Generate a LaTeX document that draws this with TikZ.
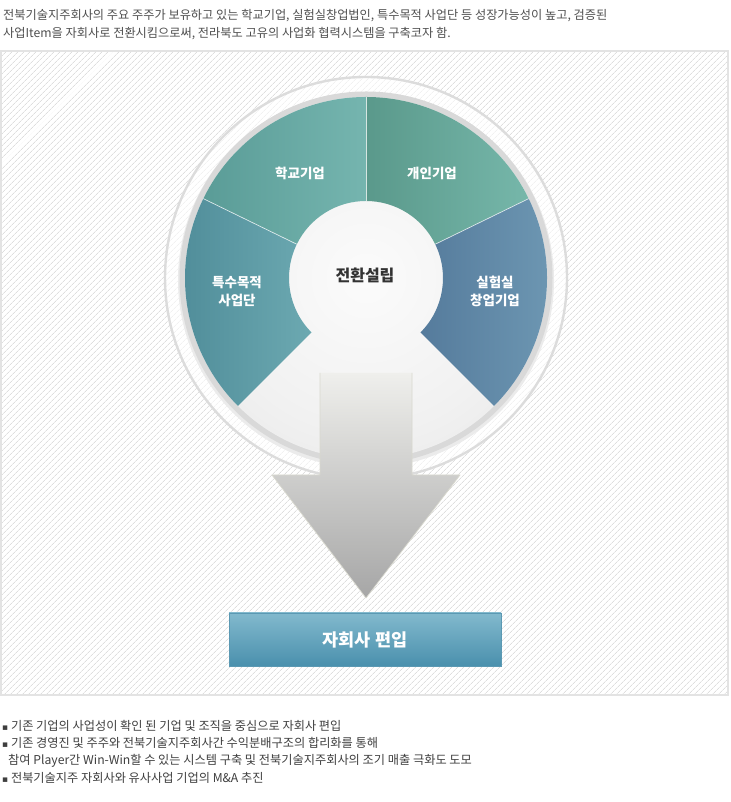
\documentclass[tikz,border=0pt]{standalone}
\usepackage{fontspec}
\setmainfont{Noto Sans CJK KR}
\newfontfamily\dv{DejaVu Sans}
\usetikzlibrary{patterns.meta}
\definecolor{panelborder}{HTML}{E3E3E3}
\definecolor{ringgray}{HTML}{DCDCDC}
\definecolor{rimgray}{HTML}{D9D9D9}
\definecolor{hakL}{HTML}{5A9C97}
\definecolor{hakR}{HTML}{75B5AF}
\definecolor{gaeL}{HTML}{5A998B}
\definecolor{gaeR}{HTML}{76B7AA}
\definecolor{teuL}{HTML}{4E8B98}
\definecolor{teuR}{HTML}{6CA9B1}
\definecolor{silL}{HTML}{557B9C}
\definecolor{silR}{HTML}{6F99B4}
\definecolor{arrowtop}{HTML}{EFEFEC}
\definecolor{arrowmid}{HTML}{D2D2D2}
\definecolor{arrowbot}{HTML}{A6A6A6}
\definecolor{arrowedge}{HTML}{D9D9CF}
\definecolor{boxtop}{HTML}{82B9CD}
\definecolor{boxbot}{HTML}{4A90AD}
\definecolor{boxedge}{HTML}{5B99B3}
\definecolor{toptxt}{HTML}{4F4F4F}
\definecolor{bottxt}{HTML}{3F3F3F}
\definecolor{centertxt}{HTML}{333333}
\pgfdeclareradialshading{discshade}{\pgfpoint{0bp}{0bp}}{rgb(0bp)=(0.985,0.985,0.985); rgb(21bp)=(0.945,0.945,0.945); rgb(50bp)=(0.86,0.86,0.86)}
\tikzset{
  seclabel/.style={text=white, font=\bfseries\fontsize{13.5}{18}\selectfont, align=center, inner sep=0pt},
  centerlabel/.style={text=centertxt, font=\bfseries\fontsize{16}{18}\selectfont, inner sep=0pt},
  boxstyle/.style={minimum width=272pt, minimum height=53pt, top color=boxtop, bottom color=boxbot, draw=boxedge, line width=0.8pt, text=white, font=\bfseries\fontsize{17.5}{18}\selectfont, inner sep=0pt},
  toptext/.style={text=toptxt, font=\fontsize{12.2}{14}\selectfont, anchor=base west, inner sep=0pt},
  bottext/.style={text=bottxt, font=\fontsize{12.2}{14}\selectfont, anchor=base west, inner sep=0pt},
  divider/.style={white, opacity=0.75, line width=0.7pt}
}
\begin{document}
\begin{tikzpicture}[x=1pt,y=1pt]
\useasboundingbox (0,0) rectangle (730,802);
\fill[white] (0,0) rectangle (730,802);
% panel
\fill[pattern={Lines[angle=45,distance=4pt,line width=0.8pt]}, pattern color=black!13] (1,107) rectangle (728,751);
\draw[panelborder, line width=1.8pt] (1,107) rectangle (728,751);
% outer ring
\coordinate (C) at (366,524);
\fill[white, opacity=0.6] (C) circle[radius=201];
\draw[ringgray, line width=2.4pt] (C) circle[radius=201];
% disc rim and body
\fill[black!8] ([yshift=-2pt]C) circle[radius=188];
\fill[rimgray] (C) circle[radius=186.5];
\shade[shading=discshade] (C) circle[radius=181];
% sectors
\begin{scope}[shift={(C)}]
\shade[left color=gaeL, right color=gaeR] (26:77) -- (26:181) arc[start angle=26, end angle=90, radius=181] -- (90:77) arc[start angle=90, end angle=26, radius=77] -- cycle;
\shade[left color=hakL, right color=hakR] (90:77) -- (90:181) arc[start angle=90, end angle=154, radius=181] -- (154:77) arc[start angle=154, end angle=90, radius=77] -- cycle;
\shade[left color=teuL, right color=teuR] (154:77) -- (154:181) arc[start angle=154, end angle=225, radius=181] -- (225:77) arc[start angle=225, end angle=154, radius=77] -- cycle;
\shade[left color=silL, right color=silR] (-45:77) -- (-45:181) arc[start angle=-45, end angle=26, radius=181] -- (26:77) arc[start angle=26, end angle=-45, radius=77] -- cycle;
\draw[divider] (90:77) -- (90:181);
\draw[divider] (26:77) -- (26:181);
\draw[divider] (154:77) -- (154:181);
\end{scope}
% arrow
\shade[top color=arrowtop, middle color=arrowmid, bottom color=arrowbot] (320,429) -- (412,429) -- (412,327) -- (460,327) -- (366,204) -- (272,327) -- (320,327) -- cycle;
\draw[arrowedge, line width=0.7pt, line join=round] (412,429) -- (412,327) -- (460,327) -- (366,204) -- (272,327) -- (320,327) -- (320,429);
% labels
\node[seclabel] (hakgyo) at (300,629) {학교기업};
\node[seclabel] (gaein) at (432,629) {개인기업};
\node[seclabel] (teuksu) at (237,511) {특수목적\\사업단};
\node[seclabel] (silheom) at (495,511) {실험실\\창업기업};
\node[centerlabel] (center) at (365,527) {전환설립};
% target box
\node[boxstyle] (box) at (365,162.5) {자회사 편입};
% intro text
\node[toptext] (intro1) at (3,782) {전북기술지주회사의 주요 주주가 보유하고 있는 학교기업, 실험실창업법인, 특수목적 사업단 등 성장가능성이 높고, 검증된};
\node[toptext] (intro2) at (3,764) {사업Item을 자회사로 전환시킴으로써, 전라북도 고유의 사업화 협력시스템을 구축코자 함.};
% bullets
\node[bottext] (b1) at (2,71) {{\dv\fontsize{9}{9}\selectfont ▪} 기존 기업의 사업성이 확인 된 기업 및 조직을 중심으로 자회사 편입};
\node[bottext] (b2) at (2,54) {{\dv\fontsize{9}{9}\selectfont ▪} 기존 경영진 및 주주와 전북기술지주회사간 수익분배구조의 합리화를 통해};
\node[bottext] (b2b) at (8,37) {참여 Player간 Win-Win할 수 있는 시스템 구축 및 전북기술지주회사의 조기 매출 극화도 도모};
\node[bottext] (b3) at (2,19) {{\dv\fontsize{9}{9}\selectfont ▪} 전북기술지주 자회사와 유사사업 기업의 M\&A 추진};
\end{tikzpicture}
\end{document}
